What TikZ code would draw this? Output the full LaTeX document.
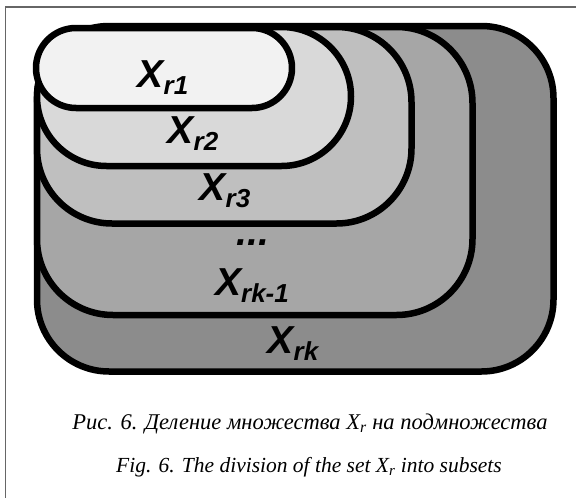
\documentclass[tikz,border=0pt]{standalone}
\usepackage{fontspec}
\setmainfont{Liberation Serif}
\newfontfamily\labfont{Liberation Sans}
\definecolor{gA}{HTML}{F2F2F2}
\definecolor{gB}{HTML}{D9D9D9}
\definecolor{gC}{HTML}{BFBFBF}
\definecolor{gD}{HTML}{A6A6A6}
\definecolor{gE}{HTML}{8C8C8C}
\definecolor{frameg}{HTML}{666666}
\newcommand{\setlbl}[1]{X\raisebox{-7pt}{\fontsize{26}{26}\selectfont #1}}
\begin{document}
\begin{tikzpicture}[x=1pt,y=-1pt,
  setshape/.style={draw=black,line width=6.5pt,line join=round},
  lab/.style={anchor=base,inner sep=0pt,font=\labfont\bfseries\itshape\fontsize{39}{39}\selectfont},
  captxt/.style={anchor=base,inner sep=0pt,font=\itshape\fontsize{22.5}{27}\selectfont},
  captxtb/.style={anchor=base,inner sep=0pt,font=\itshape\fontsize{21.5}{26}\selectfont},
  framel/.style={draw=frameg,line width=1.5pt}]
\useasboundingbox (0,0) rectangle (576,498);
\fill[white] (0,0) rectangle (576,498);
\draw[framel] (5.5,498) -- (5.5,7) -- (576,7);
% nested sets
\draw[setshape,fill=gE,rounded corners=72pt] (37,26) rectangle (553.5,371.5);
\draw[setshape,fill=gD,rounded corners=76pt] (37,27) rectangle (472.5,315);
\draw[setshape,fill=gC,rounded corners=75pt] (37,27) rectangle (411.5,223.5);
\draw[setshape,fill=gB,rounded corners=69.5pt] (37,27) rectangle (351,166);
\draw[setshape,fill=gA,rounded corners=40pt] (36,28) rectangle (292,108);
% labels
\node[lab] (l1) at (163,87) {\setlbl{r1}};
\node[lab] (l2) at (193,143) {\setlbl{r2}};
\node[lab] (l3) at (225,200) {\setlbl{r3}};
\node[lab] (ld) at (253,245) {...};
\node[lab] (lk1) at (252,295) {\setlbl{rk-1}};
\node[lab] (lk) at (293,353) {\setlbl{rk}};
% caption
\node[captxt] (c1) at (310,429) {Рис. 6. Деление множества X\textsubscript{r} на подмножества};
\node[captxtb] (c2) at (309,472) {Fig. 6. The division of the set X\textsubscript{r} into subsets};
\end{tikzpicture}
\end{document}
